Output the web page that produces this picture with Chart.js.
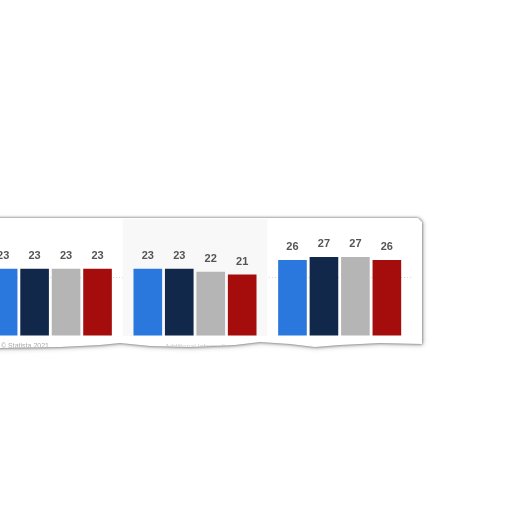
<!DOCTYPE html>
<html>
<head>
<meta charset="utf-8">
<script src="https://cdn.jsdelivr.net/npm/chart.js@4.4.1/dist/chart.umd.min.js"></script>
<style>
    html, body { margin: 0; padding: 0; background: #fff; width: 512px; height: 512px; overflow: hidden; }
    #shadow {
        position: absolute; left: -30px; top: 218px; width: 452px; height: 132px;
        filter: drop-shadow(0 0 1.5px rgba(0, 0, 0, 0.55)) drop-shadow(1px 1px 2px rgba(0, 0, 0, 0.25));
    }
    #paper {
        position: absolute; left: 0; top: 0; width: 452px; height: 132px; background: #fff;
        clip-path: polygon(0 0, 448px 0, 452px 4px, 452px 126px, 410px 125px, 370px 127px, 345px 129px,
            320px 126px, 290px 124px, 265px 127px, 220px 129px, 180px 128px, 150px 125px, 130px 127px,
            90px 129px, 30px 130px, 0 130px);
    }
    #chart { position: absolute; left: 7.75px; top: 1px; }
    .faint { position: absolute; font: 7px "Liberation Sans", Arial, sans-serif; color: #aaa; white-space: nowrap; filter: blur(0.4px); }
</style>
</head>
<body>
<div id="shadow">
    <div id="paper">
        <canvas id="chart" width="434" height="117"></canvas>
        <div class="faint" style="left: 31px; top: 124px;">© Statista 2021</div>
        <div class="faint" style="left: 195px; top: 125px; color: #ccc;">Additional Information</div>
    </div>
</div>
<script>
    // valores
    const categories = ['Grupo 1', 'Grupo 2', 'Grupo 3'];
    const seriesNames = ['Série 1', 'Série 2', 'Série 3', 'Série 4'];
    const serie1 = [23, 23, 26];
    const serie2 = [23, 23, 27];
    const serie3 = [23, 22, 27];
    const serie4 = [23, 21, 26];
    const yTicks = [0, 20, 40];

    const colors = ['#2a77dd', '#12284a', '#b5b5b5', '#a50d0d'];

    // faixa cinza atrás das categorias ímpares
    const bandPlugin = {
        id: 'bands',
        beforeDatasetsDraw(chart) {
            const { ctx, chartArea, scales: { x } } = chart;
            const w = x.width / categories.length;
            ctx.save();
            ctx.fillStyle = '#f8f8f8';
            categories.forEach((c, i) => {
                if (i % 2 === 1) {
                    ctx.fillRect(x.getPixelForValue(i) - w / 2, chartArea.top, w, chartArea.bottom - chartArea.top);
                }
            });
            ctx.restore();
        }
    };

    // rótulos de valor acima das barras
    const labelPlugin = {
        id: 'valueLabels',
        afterDatasetsDraw(chart) {
            const { ctx } = chart;
            ctx.save();
            ctx.font = 'bold 11px "Liberation Sans", Arial, sans-serif';
            ctx.fillStyle = '#555';
            ctx.textAlign = 'center';
            ctx.textBaseline = 'middle';
            chart.data.datasets.forEach((ds, i) => {
                chart.getDatasetMeta(i).data.forEach((bar, j) => {
                    ctx.fillText(ds.data[j], bar.x, bar.y - 13);
                });
            });
            ctx.restore();
        }
    };

    const ctx = document.getElementById('chart').getContext('2d');
    const chart = new Chart(ctx, {
        type: 'bar',
        data: {
            labels: categories,
            datasets: [serie1, serie2, serie3, serie4].map((d, i) => ({
                label: seriesNames[i],
                data: d,
                backgroundColor: colors[i],
                categoryPercentage: 0.87,
                barPercentage: 0.91
            }))
        },
        options: {
            responsive: false,
            animation: false,
            layout: { padding: 0 },
            plugins: {
                legend: { display: false },
                tooltip: { enabled: false }
            },
            scales: {
                x: {
                    grid: { display: false, drawTicks: false },
                    ticks: { display: false },
                    border: { display: true, color: '#777', width: 1 }
                },
                y: {
                    min: yTicks[0],
                    max: yTicks[yTicks.length - 1],
                    afterBuildTicks: (axis) => { axis.ticks = yTicks.map(v => ({ value: v })); },
                    ticks: { display: false },
                    grid: {
                        drawTicks: false,
                        color: (c) => c.tick && c.tick.value === 20 ? '#d8d8d8' : 'rgba(0,0,0,0)'
                    },
                    border: { display: false, dash: [1, 2] }
                }
            }
        },
        plugins: [bandPlugin, labelPlugin]
    });
</script>
</body>
</html>
